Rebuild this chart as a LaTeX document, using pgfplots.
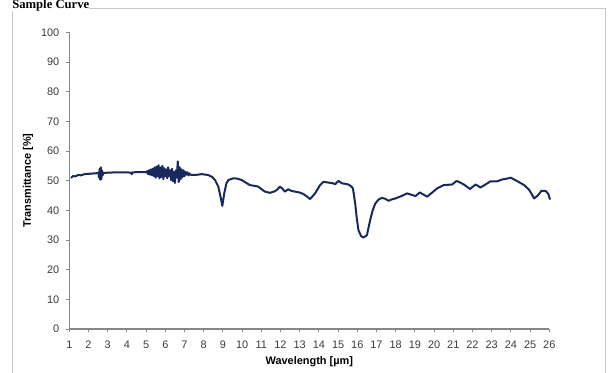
\documentclass[border=0pt]{standalone}
\usepackage{pgfplots}
\pgfplotsset{compat=1.18}
\usepackage{fontspec}
\setmainfont{Liberation Sans}
\newfontfamily\seriffont{Liberation Serif}
\definecolor{curve}{RGB}{24,42,92}
\definecolor{axgray}{RGB}{134,134,134}
\definecolor{framegray}{RGB}{200,200,200}
\definecolor{ticktext}{RGB}{60,60,60}
\begin{document}
\begin{tikzpicture}[x=0.75pt,y=0.75pt]
\path[use as bounding box] (0,0) rectangle (608,373);
\clip (0,0) rectangle (608,373);
\fill[white] (0,0) rectangle (608,373);
\draw[framegray, line width=1.1pt] (12.5,-10) -- (12.5,364.5) -- (605.5,364.5) -- (605.5,-10);
\node[anchor=base west, inner sep=0pt, fill=white, font=\seriffont\bfseries\fontsize{9.5}{11}\selectfont] at (12,364.5) {Sample Curve};
\begin{axis}[
  at={(51.975pt,33pt)}, anchor=origin,
  scale only axis,
  width=360pt, height=222.5pt,
  xmin=1, xmax=26, ymin=0, ymax=100,
  clip=false,
  axis x line*=bottom, axis y line*=left,
  axis line style={draw=axgray, line width=0.8pt, -},
  xtick={1,2,...,26}, ytick={0,10,...,100},
  tick align=outside, major tick length=2.5pt,
  tick style={draw=axgray, line width=0.6pt},
  xtick pos=bottom, ytick pos=left,
  /pgf/number format/assume math mode=true,
  ticklabel style={font=\fontsize{8.2}{9.5}\selectfont, text=ticktext},
  xticklabel style={yshift=-3pt},
  yticklabel style={xshift=-1.5pt},
  xlabel={Wavelength [µm]},
  ylabel={Transmittance [\%]},
  label style={font=\bfseries\fontsize{8.2}{10}\selectfont},
  xlabel style={at={(rel axis cs:0.5,0)}, anchor=center, yshift=-24.5pt},
  ylabel style={at={(rel axis cs:0,0.5)}, anchor=center, yshift=31pt},
]
\addplot[curve, line width=1.5pt, line join=round, line cap=round] coordinates {
(1.10,51.0) (1.20,51.6) (1.30,51.4) (1.45,51.9) (1.60,51.8) (1.80,52.2)
(2.00,52.3) (2.20,52.4) (2.40,52.5) (2.52,52.6) (2.55,51.0) (2.58,54.0)
(2.61,50.3) (2.64,54.5) (2.67,50.5) (2.70,53.5) (2.73,51.8) (2.78,52.6)
(3.00,52.7) (3.50,52.8) (4.00,52.8) (4.20,52.7) (4.25,52.2) (4.30,52.8)
(4.60,52.9) (4.90,52.9)
(5.00,52.8) (5.05,53.2) (5.10,52.2) (5.15,53.5) (5.20,52.0) (5.25,53.8)
(5.30,51.8) (5.35,54.0) (5.40,51.5) (5.45,54.5) (5.50,51.0) (5.55,54.8)
(5.60,51.5) (5.65,55.2) (5.70,50.8) (5.75,54.5) (5.80,51.2) (5.85,55.0)
(5.90,50.5) (5.95,54.2) (6.00,51.5) (6.05,53.8) (6.10,50.8) (6.15,54.5)
(6.20,51.5) (6.25,53.5) (6.30,50.2) (6.35,54.0) (6.40,49.8) (6.45,53.0)
(6.50,49.2) (6.55,53.5) (6.60,51.0) (6.65,56.5) (6.70,49.5) (6.75,54.5)
(6.80,50.5) (6.85,53.8) (6.90,51.2) (6.95,53.5) (7.00,51.5) (7.05,53.0)
(7.10,52.0) (7.15,52.8) (7.20,51.8) (7.25,52.5) (7.30,52.0)
(7.55,51.9) (7.90,52.2) (8.24,51.9) (8.45,51.2) (8.59,50.2) (8.76,48.0)
(8.88,44.5) (8.97,41.5) (9.07,45.7) (9.18,49.0) (9.28,50.2) (9.54,50.8)
(9.75,50.7) (9.98,50.2) (10.20,49.3) (10.41,48.5) (10.60,48.3) (10.84,48.0)
(11.00,47.2) (11.19,46.3) (11.45,45.9) (11.65,46.3) (11.80,46.8) (11.97,48.0)
(12.10,47.3) (12.23,46.3) (12.40,47.1) (12.55,46.6) (12.76,46.3) (13.00,46.0)
(13.19,45.5) (13.35,44.8) (13.54,43.8) (13.80,45.7) (14.06,48.5) (14.24,49.6)
(14.45,49.4) (14.75,49.1) (14.85,48.8) (14.95,49.5) (15.02,49.9) (15.20,49.1)
(15.40,48.9) (15.54,48.7) (15.70,48.0) (15.77,47.4) (15.83,45.0) (15.89,42.3)
(15.97,37.5) (16.06,33.3) (16.20,31.3) (16.32,30.8) (16.50,31.6) (16.67,36.7)
(16.80,40.0) (16.94,42.3) (17.10,43.6) (17.28,44.2) (17.45,43.9) (17.63,43.2)
(17.80,43.7) (17.98,44.0) (18.30,44.8) (18.59,45.7) (18.80,45.3) (19.03,44.8)
(19.25,46.0) (19.45,45.3) (19.64,44.6) (19.90,46.0) (20.16,47.4) (20.50,48.5)
(20.94,48.7) (21.17,49.9) (21.35,49.4) (21.55,48.7) (21.87,47.2) (22.16,48.7)
(22.42,47.7) (22.70,48.8) (22.94,49.8) (23.29,49.8) (23.55,50.4) (23.80,50.7)
(23.99,51.0) (24.34,49.8) (24.69,48.5) (24.94,47.0) (25.08,45.5) (25.21,44.0)
(25.42,45.1) (25.59,46.6) (25.82,46.5) (25.95,45.5) (26.03,43.8)
};
\end{axis}
\end{tikzpicture}
\end{document}
